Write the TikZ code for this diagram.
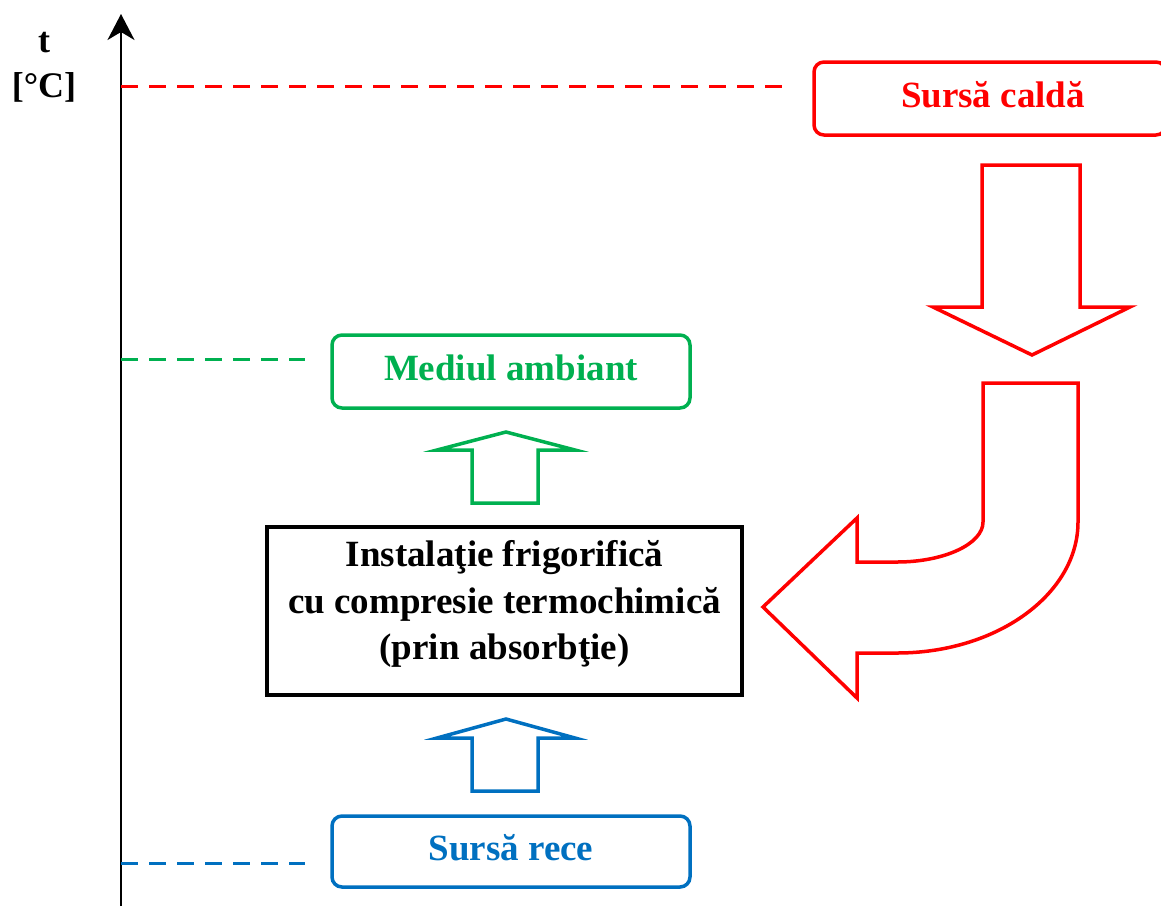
\documentclass[tikz,border=0pt]{standalone}
\usepackage{fontspec}
\setmainfont{Liberation Serif}
\usetikzlibrary{arrows.meta}
\definecolor{hotred}{RGB}{255,0,0}
\definecolor{ambgreen}{RGB}{0,176,80}
\definecolor{coldblue}{RGB}{0,112,192}
\tikzset{
  lbl/.style={font=\fontsize{37}{46.5}\selectfont\bfseries, align=center},
  rbox/.style={draw, line width=3.5pt, rounded corners=10pt, minimum height=72pt, inner sep=0pt},
  blockarrow/.style={line width=3.5pt, miter limit=10},
  level/.style={line width=3pt, dash pattern=on 17pt off 11pt},
}
\begin{document}
\begin{tikzpicture}[x=1pt,y=-1pt]
\useasboundingbox (0,0) rectangle (1161,906);
% axis
\coordinate (axb) at (121,906);
\coordinate (axt) at (121,14);
\draw[line width=2.2pt, -{Stealth[length=26pt,width=27pt,inset=8pt]}] (axb) -- (axt);
\node[lbl, font=\fontsize{36}{46}\selectfont\bfseries] (tl) at (44,43) {t};
\node[lbl, font=\fontsize{36}{46}\selectfont\bfseries] (cl) at (44,87) {[°C]};
% boxes
\node[rbox, hotred, minimum width=352pt, minimum height=73pt] (hot) at (990,98.5) {};
\node[lbl, hotred] (hott) at (993,95) {Sursă caldă};
\node[rbox, ambgreen, minimum width=358pt, minimum height=73pt] (amb) at (511,371.5) {};
\node[lbl, ambgreen] (ambt) at (511,368) {Mediul ambiant};
\node[rbox, coldblue, minimum width=358pt, minimum height=71pt] (cold) at (511,851.5) {};
\node[lbl, coldblue] (coldt) at (511,848) {Sursă rece};
\node[draw, line width=3.5pt, minimum width=475pt, minimum height=168pt, inner sep=0pt] (inst) at (504.5,611) {};
\node[lbl] (instt) at (504.5,604)
  {Instalaţie frigorifică\\cu compresie termochimică\\(prin absorbţie)};
% level lines
\coordinate (hotend) at (785,86);
\coordinate (ambend) at (305,359);
\coordinate (coldend) at (305,863);
\draw[level, hotred] (axb |- hotend) -- (hotend);
\draw[level, ambgreen] (axb |- ambend) -- (ambend);
\draw[level, coldblue] (axb |- coldend) -- (coldend);
% red down arrow
\draw[blockarrow, hotred] (982,165) -- (1080,165) -- (1080,307) -- (1130,307) -- (1032,355)
  -- (933,307) -- (982,307) -- cycle;
% red curved arrow
\draw[blockarrow, hotred] (983,383) -- (1078,383) -- (1078,522)
  .. controls (1078,594) and (997,653) .. (897,653)
  -- (857,653) -- (857,698) -- (763,607) -- (857,518) -- (857,562) -- (897,562)
  .. controls (944,562) and (983,544) .. (983,522) -- cycle;
% green up arrow
\draw[blockarrow, ambgreen] (472,503) -- (538,503) -- (538,450) -- (575,450) -- (506,432)
  -- (437,450) -- (472,450) -- cycle;
% blue up arrow
\draw[blockarrow, coldblue] (472,791) -- (538,791) -- (538,738) -- (575,738) -- (506,719)
  -- (437,738) -- (472,738) -- cycle;
\end{tikzpicture}
\end{document}
